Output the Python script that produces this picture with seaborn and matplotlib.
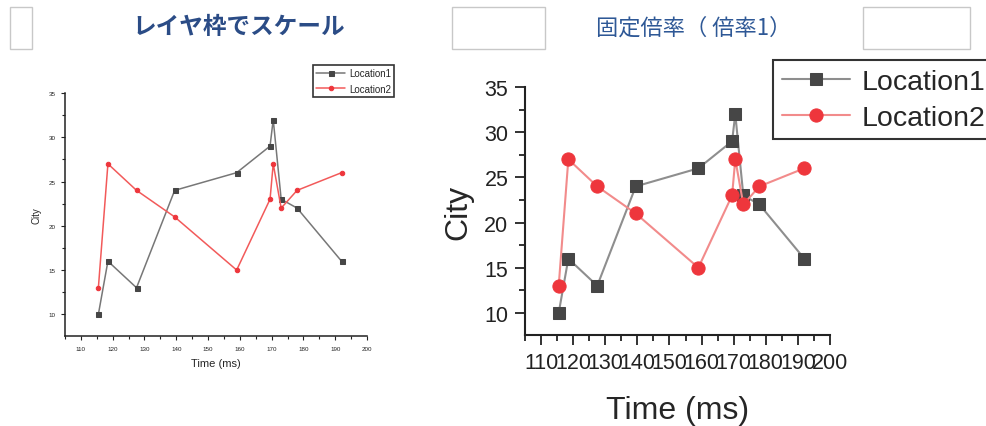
import matplotlib
matplotlib.use("Agg")
import matplotlib.pyplot as plt
import matplotlib.patches as patches
from matplotlib.ticker import MultipleLocator
import seaborn as sns
import pandas as pd

# ==========================================================
# DATA
# ==========================================================

time_ms = [115.5, 118.5, 127.5, 139.5, 159, 169.5, 170.5, 173, 178, 192]
location1 = [10, 16, 13, 24, 26, 29, 32, 23, 22, 16]
location2 = [13, 27, 24, 21, 15, 23, 27, 22, 24, 26]

x_ticks = [110, 120, 130, 140, 150, 160, 170, 180, 190, 200]
y_ticks = [10, 15, 20, 25, 30, 35]

left_title = "レイヤ枠でスケール"
right_title = "固定倍率（ 倍率1）"

df1 = pd.DataFrame({"Time": time_ms, "City": location1})
df2 = pd.DataFrame({"Time": time_ms, "City": location2})

# ==========================================================
# STYLE
# ==========================================================

sns.set_theme(style="ticks")
plt.rcParams["font.family"] = ["Liberation Sans", "Noto Sans CJK JP", "DejaVu Sans"]

W, H = 986, 427
fig = plt.figure(figsize=(W / 100, H / 100), dpi=100)


def rect(x0, y0, x1, y1):
    # pixel box -> figure fraction
    return [x0 / W, 1 - y1 / H, (x1 - x0) / W, (y1 - y0) / H]


def draw_panel(ax, big):
    if big:
        lw, ms_sq, ms_ci = 1.5, 8.5, 9.5
        line1, line2 = "#8e8e8e", "#f28b8b"
    else:
        lw, ms_sq, ms_ci = 1.1, 3.6, 3.2
        line1, line2 = "#777777", "#f25a5a"

    sns.lineplot(
        data=df1, x="Time", y="City", ax=ax,
        color=line1, linewidth=lw, marker="s", markersize=ms_sq,
        markerfacecolor="#464646", markeredgecolor="#464646",
        estimator=None, sort=False, label="Location1"
    )
    sns.lineplot(
        data=df2, x="Time", y="City", ax=ax,
        color=line2, linewidth=lw, marker="o", markersize=ms_ci,
        markerfacecolor="#ee363c", markeredgecolor="#ee363c",
        estimator=None, sort=False, label="Location2"
    )

    ax.set_xlim(105.0, 200)
    ax.set_ylim(7.55, 35)
    ax.set_xticks(x_ticks)
    ax.set_yticks(y_ticks)
    ax.xaxis.set_minor_locator(MultipleLocator(5))
    ax.yaxis.set_minor_locator(MultipleLocator(2.5))
    sns.despine(ax=ax)

    spine_w = 1.5 if big else 1.1
    for s in ["left", "bottom"]:
        ax.spines[s].set_linewidth(spine_w)
        ax.spines[s].set_color("#222222")


# ==========================================================
# LEFT PANEL (scaled with layer frame)
# ==========================================================

ax1 = fig.add_axes(rect(65, 94, 367, 337))
draw_panel(ax1, big=False)
ax1.tick_params(which="major", length=3, width=0.8, labelsize=4.5, pad=4, colors="#222222")
ax1.tick_params(which="minor", length=2, width=0.8, colors="#222222")
ax1.set_xlabel("Time (ms)", fontsize=8, labelpad=5)
ax1.set_ylabel("City", fontsize=7, labelpad=5)

leg1 = ax1.legend(
    loc="upper left", bbox_to_anchor=(313 / W, 1 - 66 / H),
    bbox_transform=fig.transFigure, fontsize=7, frameon=True,
    fancybox=False, framealpha=1, edgecolor="#333333",
    handlelength=3.0, handletextpad=0.4, borderpad=0.3, labelspacing=0.6,
    borderaxespad=0
)
leg1.get_frame().set_linewidth(1.2)

# ==========================================================
# RIGHT PANEL (fixed magnification)
# ==========================================================

ax2 = fig.add_axes(rect(525, 88, 830, 336))
draw_panel(ax2, big=True)
ax2.tick_params(which="major", length=7, width=1.3, labelsize=15.5, pad=5, colors="#222222")
ax2.tick_params(which="minor", length=4, width=1.3, colors="#222222")
ax2.set_xlabel("Time (ms)", fontsize=23, labelpad=16)
ax2.set_ylabel("City", fontsize=23, labelpad=8)

leg2 = ax2.legend(
    loc="upper left", bbox_to_anchor=(773 / W, 1 - 61 / H),
    bbox_transform=fig.transFigure, fontsize=20.5, frameon=True,
    fancybox=False, framealpha=1, edgecolor="#333333",
    handlelength=2.4, handletextpad=0.4, borderpad=0.3, labelspacing=0.35,
    borderaxespad=0
)
leg2.get_frame().set_linewidth(1.5)

# ==========================================================
# TITLES AND EMPTY BOXES
# ==========================================================

fig.text(239 / W, 1 - 27 / H, left_title, ha="center", va="center",
         fontsize=17, fontweight="bold", color="#2b4c86",
         family=["Noto Sans CJK JP", "DejaVu Sans"])
fig.text(694 / W, 1 - 28 / H, right_title, ha="center", va="center",
         fontsize=16, color="#2e5896",
         family=["Noto Sans CJK JP", "DejaVu Sans"])

for x0, x1 in [(10, 32), (452, 545), (863, 970)]:
    r = rect(x0, 8, x1, 50)
    fig.add_artist(patches.Rectangle(
        (r[0], r[1]), r[2], r[3], transform=fig.transFigure,
        facecolor="white", edgecolor="#c8c8c8", linewidth=1.0
    ))

fig.savefig("out.png", dpi=100)
plt.close()
